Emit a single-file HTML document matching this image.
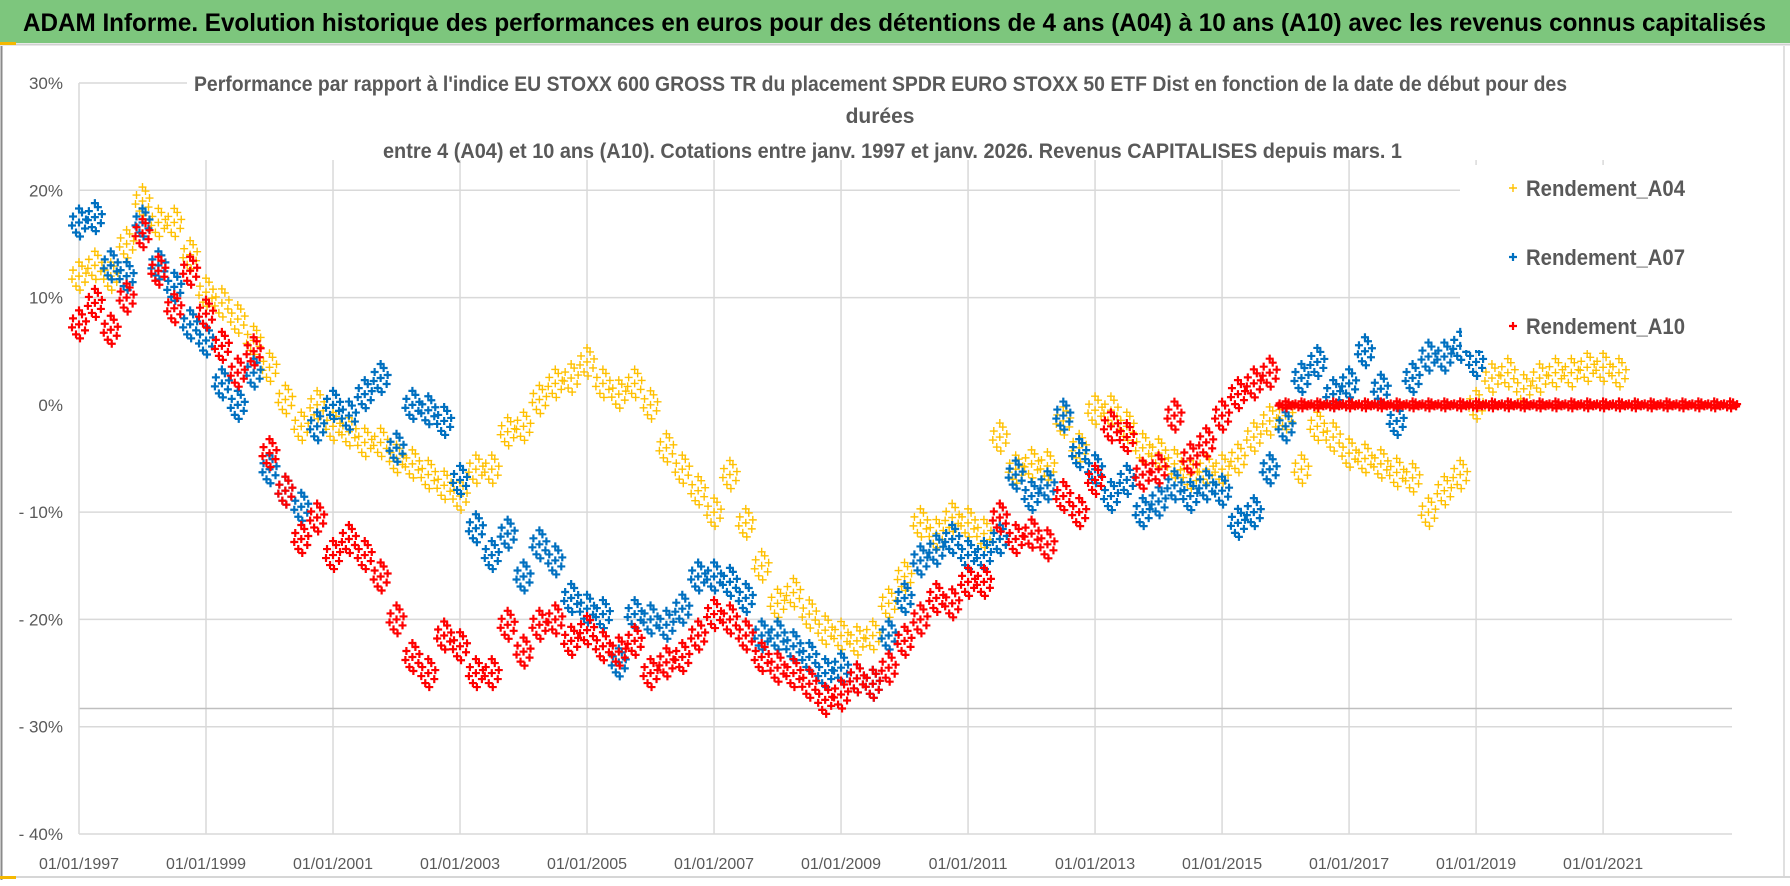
<!DOCTYPE html>
<html><head><meta charset="utf-8"><style>
html,body{margin:0;padding:0;background:#fff;}
svg{display:block;font-family:"Liberation Sans",sans-serif;}
</style></head><body>
<svg id="chart" width="1790" height="886" viewBox="0 0 1790 886">
  <rect x="0" y="0" width="1790" height="886" fill="#ffffff"/>
  <rect x="0" y="0" width="1790" height="43" fill="#7dc67d"/>
  <line x1="0" y1="44.5" x2="1790" y2="44.5" stroke="#d0d0d0" stroke-width="2"/>
  <rect x="0" y="42" width="16" height="3" fill="#f5b800"/>
  <text x="23" y="31" font-size="25" font-weight="bold" fill="#000" textLength="1743" lengthAdjust="spacingAndGlyphs">ADAM Informe. Evolution historique des performances en euros pour des détentions de 4 ans (A04) à 10 ans (A10) avec les revenus connus capitalisés</text>
  <line x1="1.5" y1="46" x2="1.5" y2="880" stroke="#8a8a8a" stroke-width="2"/>
  <line x1="1784" y1="46" x2="1784" y2="878" stroke="#d6d6d6" stroke-width="1.5"/>
  <line x1="0" y1="877" x2="1790" y2="877" stroke="#d6d6d6" stroke-width="2"/>
  <rect x="0" y="876" width="16" height="3" fill="#f5b800"/>
  <g id="grid"></g>
  <g id="axes"></g>
  <g id="series"></g>
  <rect x="187" y="62" width="1395" height="98" fill="#fff"/>
  <text x="194" y="91" font-size="21" font-weight="bold" fill="#595959" textLength="1373" lengthAdjust="spacingAndGlyphs">Performance par rapport à l'indice EU STOXX 600 GROSS TR  du placement SPDR EURO STOXX 50 ETF Dist en fonction de la date de début pour des</text>
  <text x="880" y="123" font-size="21" font-weight="bold" fill="#595959" text-anchor="middle">durées</text>
  <text x="383" y="158" font-size="21" font-weight="bold" fill="#595959" textLength="1019" lengthAdjust="spacingAndGlyphs">entre 4 (A04) et 10 ans (A10).  Cotations entre janv. 1997 et janv. 2026. Revenus CAPITALISES depuis mars. 1</text>
  <g id="legend"></g>
</svg>
<script>
// ---- chart data ----
const yTicks = [30, 20, 10, 0, -10, -20, -30, -40];
const yTickLabels = ["30%", "20%", "10%", "0%", "- 10%", "- 20%", "- 30%", "- 40%"];
const xTickYears = [1997, 1999, 2001, 2003, 2005, 2007, 2009, 2011, 2013, 2015, 2017, 2019, 2021];
const xTickLabels = ["01/01/1997","01/01/1999","01/01/2001","01/01/2003","01/01/2005","01/01/2007","01/01/2009","01/01/2011","01/01/2013","01/01/2015","01/01/2017","01/01/2019","01/01/2021"];
const seriesNames = ["Rendement_A04", "Rendement_A07", "Rendement_A10"];
const startYear = 1997.0;
const stepYears = 0.25;
const referenceLevel = -28.3;
const valuesA04 = [
  12, 13, 12, 15,  19, 17, 17, 14,  10.5, 9.5, 8, 6,  3.5, 0.5, -2, 0,
  -2, -2.5, -3.5, -3.5,  -5, -5.5, -6.5, -7.5,  -8.5, -6, -6, -2.5,  -2, 0.5, 2, 2.5,
  4, 2, 1, 2,  0, -4, -6, -8,  -10, -6.5, -11, -15,  -18.5, -17.5, -19.5, -21,
  -21.5, -22, -21.5, -18.5,  -16, -11, -12, -10.5,  -11, -12, -3, -6,  -5.5, -5.7, -1.5, -4,
  -0.5, -0.5, -2, -4,  -4.5, -5.5, -6.5, -6,  -6, -5, -3, -1.5,  -1, -6, -2, -3,
  -4.5, -5, -5.5, -6.3,  -6.8, -10, -8, -6.5,  0, 2.5, 3, 1.5,  2.5, 3, 3, 3.5,
  3.5, 3
];
const valuesA07 = [
  17, 17.5, 13, 12,  17, 13, 11, 7.5,  6, 2, 0, 3,  -6, -8, -9.5, -2,
  0, -1, 1, 2.5,  -4, 0, -0.5, -1.5,  -7, -11.5, -14, -12,  -16, -13, -14.5, -18,
  -19, -19.5, -24, -19.5,  -20, -20.5, -19, -16,  -16, -16.5, -18, -21.5,  -21.5, -22.5, -23.5, -25,
  -24.5, -25.5, -26, -21.5,  -18, -14.5, -13.5, -12.5,  -14, -14, -12.5, -6.5,  -8.5, -7.5, -1, -4.5,
  -6, -8.5, -7, -10,  -9, -7.5, -8.5, -7.5,  -8, -11, -10, -6,  -2, 2.5, 4, 1,
  2, 5, 1.5, -1.5,  2.5, 4.5, 4.5, 5.5,  4
];
const valuesA10 = [
  7.5, 9.5, 7, 10,  16, 12.5, 9, 12.5,  8.5, 5.5, 3, 5,  -4.5, -8, -12.5, -10.5,
  -14, -12.5, -14, -16,  -20, -23.5, -25, -21.5,  -22.5, -25, -25, -20.5,  -23, -20.5, -20, -22,
  -21, -22.5, -23, -22,  -25, -24, -23.5, -21.5,  -19.5, -20, -21.5, -23.5,  -24.5, -25, -26, -27.5,
  -27, -25.5, -26, -24.5,  -22, -20, -18, -18.5,  -16.5, -16.5, -10.5, -12.5,  -12, -13, -8.5, -10,
  -7, -2, -3, -6.5,  -6, -1, -5, -3.5,  -1, 1, 2, 3,  0, 0, 0, 0,
  0, 0, 0, 0,  0, 0, 0, 0,  0, 0, 0, 0,  0, 0, 0, 0,  0, 0, 0, 0,
  0, 0, 0, 0,  0
];

// ---- scales ----
const plotLeft = 79, plotRight = 1732, plotTop = 83, plotBottom = 834;
const xMin = 1997, xMax = 2023.03, yMin = -40, yMax = 30;
function xScale(year){ return plotLeft + (year - xMin) / (xMax - xMin) * (plotRight - plotLeft); }
function yScale(v){ return plotBottom - (v - yMin) / (yMax - yMin) * (plotBottom - plotTop); }

const NS = "http://www.w3.org/2000/svg";
function mk(tag, attrs){ const e = document.createElementNS(NS, tag); for (const k in attrs) e.setAttribute(k, attrs[k]); return e; }

const grid = document.getElementById('grid');
const axes = document.getElementById('axes');
yTicks.forEach(function(t, i){
  if (t === 0 || t === -40) return;
  const y = yScale(t);
  let x2 = plotRight;
  if (t === 30) x2 = 187;
  else if (t >= 10) x2 = 1460;
  const ln = mk('line', {x1: plotLeft, y1: y, x2: x2, y2: y, stroke: '#d9d9d9', 'stroke-width': 1.5});
  
  
  grid.appendChild(ln);
});
xTickYears.forEach(function(yr, i){
  if (i === 0) return;
  const x = xScale(yr);
  const ln = mk('line', {x1: x, y1: 160, x2: x, y2: plotBottom, stroke: '#d9d9d9', 'stroke-width': 1.5});
  
  
  grid.appendChild(ln);
});
const ref = mk('line', {x1: plotLeft, y1: yScale(referenceLevel), x2: plotRight, y2: yScale(referenceLevel), stroke: '#bfbfbf', 'stroke-width': 1.5});


grid.appendChild(ref);
const yAxis = mk('line', {x1: plotLeft, y1: plotTop, x2: plotLeft, y2: plotBottom, stroke: '#d9d9d9', 'stroke-width': 1.5});


axes.appendChild(yAxis);
const xAxis = mk('line', {x1: plotLeft, y1: plotBottom, x2: plotRight, y2: plotBottom, stroke: '#d9d9d9', 'stroke-width': 1.5});


axes.appendChild(xAxis);
yTicks.forEach(function(t, i){
  const tx = mk('text', {x: 63, y: yScale(t) + 6, 'font-size': 17, fill: '#595959', 'text-anchor': 'end'});
  tx.textContent = yTickLabels[i];
  
  
  axes.appendChild(tx);
});
xTickYears.forEach(function(yr, i){
  const tx = mk('text', {x: xScale(yr), y: 869, 'font-size': 16, fill: '#595959', 'text-anchor': 'middle'});
  tx.textContent = xTickLabels[i];
  
  
  axes.appendChild(tx);
});

// ---- series ----
const colors = ['#ffc000', '#0070c0', '#ff0000'];
const widths = [1.4, 2.2, 2.2];
const clusterDX = [0, -6, 6, -3, 3, -7, 7, 0, 1];
const clusterDY = [0, -6, 6, 10, -10, 3, -3, -14, 14];
const allValues = [valuesA04, valuesA07, valuesA10];
const seriesLayer = document.getElementById('series');
function runLength(vals, i){
  let a = i, b = i;
  while (a > 0 && vals[a - 1] === vals[i]) a--;
  while (b < vals.length - 1 && vals[b + 1] === vals[i]) b++;
  return b - a + 1;
}
allValues.forEach(function(vals, s){
  const g = mk('g', {});
  
  
  vals.forEach(function(v, i){
    const cx = xScale(startYear + i * stepYears);
    const cy = yScale(v);
    const flat = runLength(vals, i) >= 4;
    let d = '';
    for (let k = 0; k < clusterDX.length; k++){
      const px = cx + clusterDX[k], py = cy + (flat ? clusterDY[k] * 0.25 : clusterDY[k]);
      d += 'M' + (px - 4) + ' ' + py + 'h8M' + px + ' ' + (py - 4) + 'v8';
    }
    const p = mk('path', {d: d, stroke: colors[s], 'stroke-width': widths[s], fill: 'none'});
    
    
    g.appendChild(p);
  });
  seriesLayer.appendChild(g);
});

// ---- legend ----
const legend = document.getElementById('legend');
const legendY = [188, 257, 326];
const lb = mk('rect', {x: 1462, y: 165, width: 260, height: 185, fill: '#fff'});


legend.appendChild(lb);
seriesNames.forEach(function(name, s){
  const y = legendY[s];
  const m = mk('path', {d: 'M1509 ' + y + 'h8M1513 ' + (y - 4) + 'v8', stroke: colors[s], 'stroke-width': widths[s], fill: 'none'});
  
  
  legend.appendChild(m);
  const t = mk('text', {x: 1526, y: y + 8, 'font-size': 22, 'font-weight': 'bold', fill: '#595959', textLength: 159, lengthAdjust: 'spacingAndGlyphs'});
  t.textContent = name;
  
  
  legend.appendChild(t);
});
</script>
</body></html>
